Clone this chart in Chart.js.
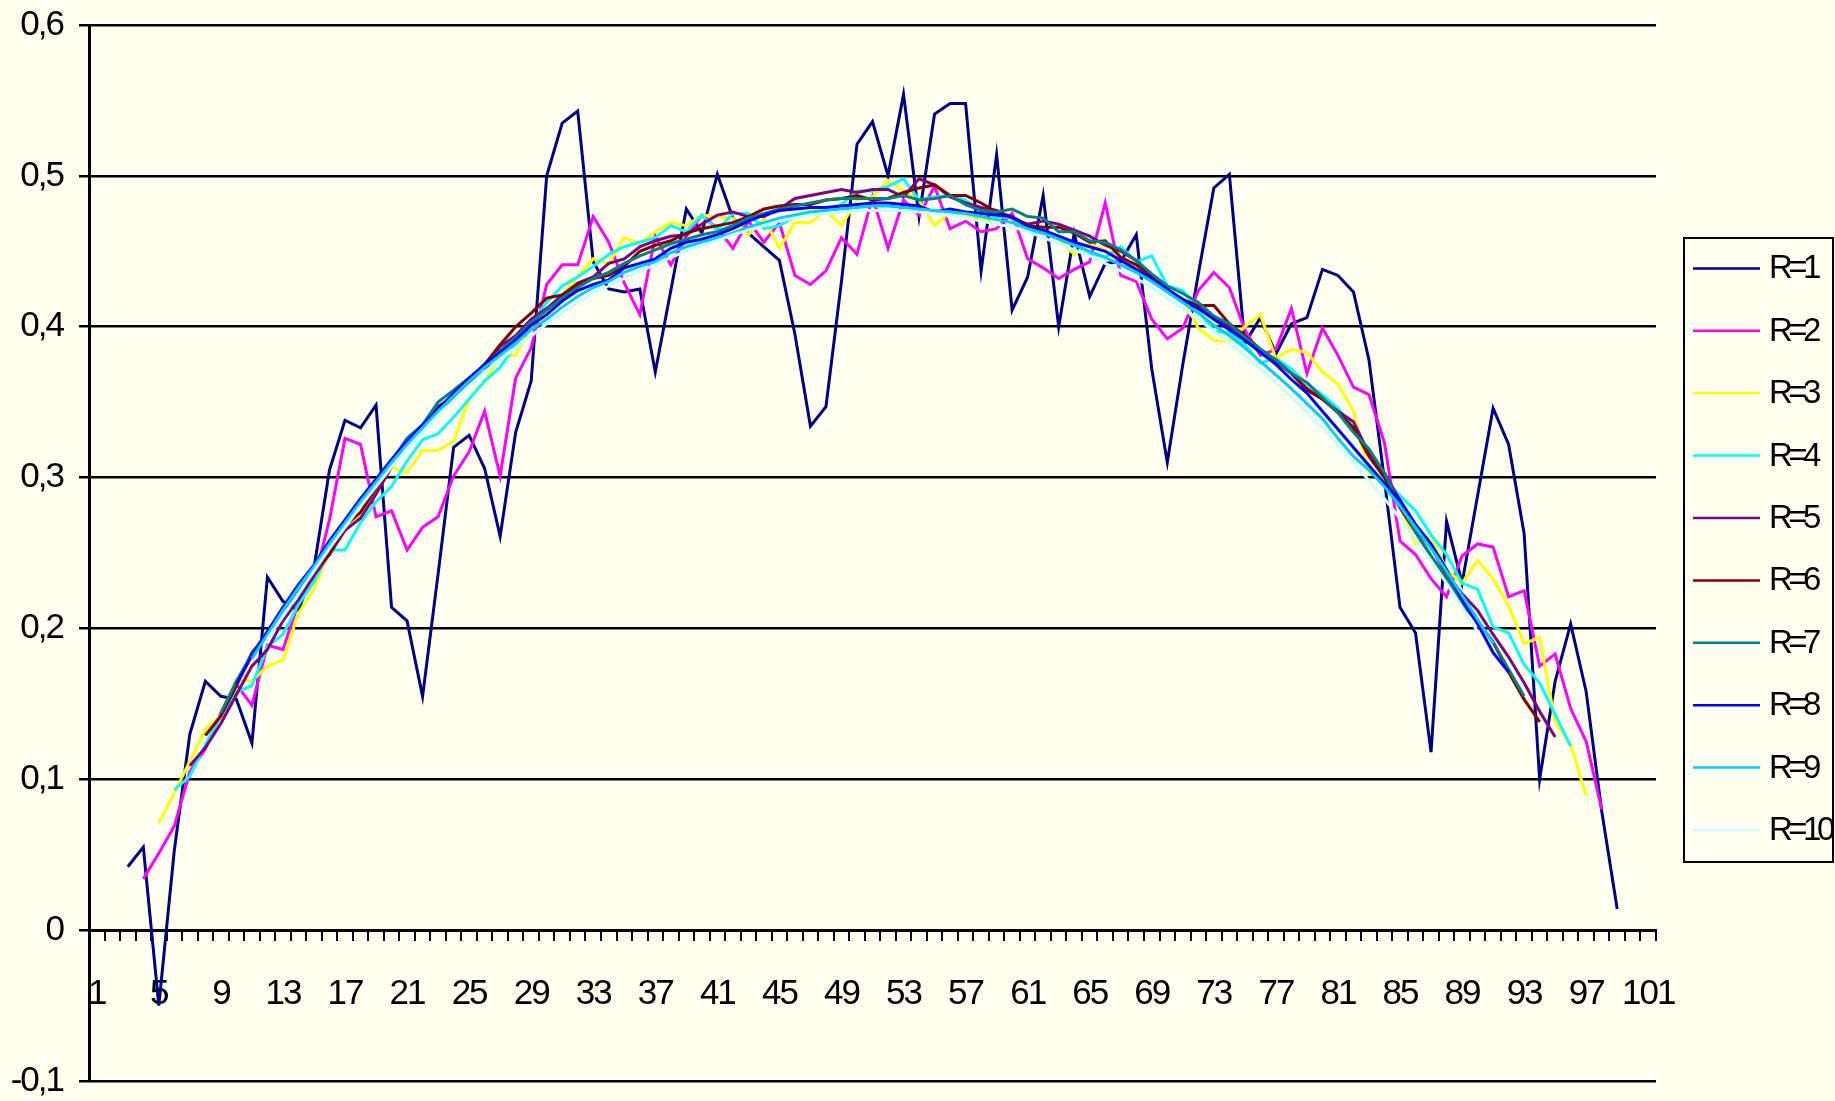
<!DOCTYPE html>
<html>
<head>
<meta charset="utf-8">
<script src="https://cdn.jsdelivr.net/npm/chart.js@4.4.1/dist/chart.umd.min.js"></script>
<style>
  html, body { margin: 0; padding: 0; background: #FFFFF0; }
  #wrap { width: 1835px; height: 1101px; }
  canvas { background: #FFFFF0; }
</style>
</head>
<body>
<div id="wrap"><canvas id="chart" width="1835" height="1101"></canvas></div>
<script>
// categories 1..101
const categories = Array.from({length: 101}, (_, i) => String(i + 1));

const seriesNames = ['R=1', 'R=2', 'R=3', 'R=4', 'R=5', 'R=6', 'R=7', 'R=8', 'R=9', 'R=10'];
const seriesColors = ['#000080', '#FF00FF', '#FFFF00', '#00FFFF', '#800080',
                      '#800000', '#008080', '#0000FF', '#00CCFF', '#CCFFFF'];

// y axis ticks
const yMin = -0.1, yMax = 0.6, yStep = 0.1;

// values (null = no point)
const r1 = [null, null,
  0.042, 0.055, -0.050, 0.053, 0.130, 0.165, 0.155, 0.153, 0.124, 0.234,
  0.218, 0.212, 0.240, 0.305, 0.338, 0.333, 0.348, 0.214, 0.205, 0.155,
  0.236, 0.320, 0.328, 0.306, 0.261, 0.330, 0.364, 0.500, 0.535, 0.543,
  0.443, 0.425, 0.423, 0.425, 0.370, 0.424, 0.478, 0.462, 0.501, 0.472,
  0.462, 0.453, 0.444, 0.395, 0.334, 0.347, 0.430, 0.521, 0.536, 0.500,
  0.554, 0.473, 0.541, 0.548, 0.548, 0.437, 0.514, 0.411, 0.433, 0.487,
  0.400, 0.462, 0.420, 0.442, 0.443, 0.461, 0.372, 0.310, 0.375, 0.435,
  0.492, 0.501, 0.389, 0.406, 0.382, 0.402, 0.406, 0.438, 0.434, 0.423,
  0.378, 0.298, 0.214, 0.197, 0.118, 0.271, 0.230, 0.288, 0.346, 0.322,
  0.263, 0.100, 0.165, 0.203, 0.158, 0.079, 0.014];

const r2 = [null, null, null,
  0.034, 0.051, 0.069, 0.105, 0.120, 0.144, 0.163, 0.149, 0.189, 0.186,
  0.217, 0.231, 0.272, 0.326, 0.322, 0.274, 0.278, 0.252, 0.267, 0.274,
  0.301, 0.317, 0.344, 0.301, 0.366, 0.386, 0.428, 0.441, 0.441, 0.473,
  0.456, 0.429, 0.408, 0.460, 0.441, 0.460, 0.474, 0.465, 0.452, 0.470,
  0.456, 0.469, 0.434, 0.428, 0.437, 0.459, 0.448, 0.486, 0.452, 0.484,
  0.474, 0.493, 0.465, 0.470, 0.463, 0.465, 0.475, 0.445, 0.439, 0.432,
  0.438, 0.443, 0.482, 0.434, 0.430, 0.405, 0.392, 0.399, 0.424, 0.436,
  0.426, 0.398, 0.381, 0.385, 0.412, 0.369, 0.399, 0.381, 0.360, 0.355,
  0.323, 0.258, 0.249, 0.233, 0.221, 0.248, 0.256, 0.254, 0.221, 0.225,
  0.175, 0.183, 0.147, 0.125, 0.080];

const r3 = [null, null, null, null,
  0.071, 0.091, 0.112, 0.133, 0.142, 0.166, 0.165, 0.175, 0.179, 0.210,
  0.226, 0.252, 0.266, 0.275, 0.291, 0.307, 0.303, 0.318, 0.318, 0.324,
  0.352, 0.364, 0.380, 0.381, 0.400, 0.411, 0.421, 0.433, 0.445, 0.442,
  0.459, 0.455, 0.463, 0.469, 0.467, 0.474, 0.473, 0.472, 0.461, 0.472,
  0.452, 0.469, 0.469, 0.477, 0.467, 0.484, 0.486, 0.497, 0.490, 0.484,
  0.467, 0.476, 0.474, 0.472, 0.468, 0.466, 0.464, 0.462, 0.458, 0.448,
  0.455, 0.451, 0.446, 0.440, 0.432, 0.424, 0.419, 0.399, 0.391, 0.390,
  0.400, 0.408, 0.379, 0.385, 0.383, 0.370, 0.362, 0.344, 0.303, 0.300,
  0.282, 0.256, 0.261, 0.239, 0.230, 0.245, 0.233, 0.215, 0.190, 0.194,
  0.138, 0.123, 0.089];

const r4 = [null, null, null, null, null,
  0.093, 0.102, 0.123, 0.142, 0.158, 0.162, 0.188, 0.196, 0.216, 0.231,
  0.252, 0.252, 0.270, 0.284, 0.294, 0.311, 0.325, 0.329, 0.340, 0.352,
  0.364, 0.373, 0.388, 0.402, 0.416, 0.427, 0.433, 0.440, 0.448, 0.453,
  0.456, 0.459, 0.467, 0.463, 0.474, 0.464, 0.475, 0.475, 0.465, 0.467,
  0.473, 0.475, 0.477, 0.481, 0.490, 0.490, 0.493, 0.498, 0.484, 0.486,
  0.487, 0.484, 0.476, 0.473, 0.472, 0.464, 0.462, 0.459, 0.455, 0.449,
  0.446, 0.453, 0.443, 0.447, 0.427, 0.424, 0.411, 0.397, 0.396, 0.388,
  0.376, 0.379, 0.372, 0.362, 0.355, 0.346, 0.333, 0.318, 0.298, 0.288,
  0.278, 0.262, 0.249, 0.230, 0.226, 0.201, 0.197, 0.176, 0.164, 0.143,
  0.122];

const r5 = [null, null, null, null, null, null,
  0.109, 0.121, 0.137, 0.156, 0.175, 0.186, 0.205, 0.219, 0.235, 0.249,
  0.265, 0.273, 0.289, 0.307, 0.324, 0.333, 0.347, 0.354, 0.363, 0.370,
  0.387, 0.394, 0.405, 0.412, 0.421, 0.429, 0.433, 0.442, 0.445, 0.453,
  0.457, 0.460, 0.461, 0.468, 0.474, 0.476, 0.473, 0.473, 0.478, 0.485,
  0.487, 0.489, 0.491, 0.489, 0.491, 0.491, 0.486, 0.498, 0.494, 0.486,
  0.482, 0.479, 0.477, 0.472, 0.468, 0.470, 0.468, 0.464, 0.460, 0.454,
  0.450, 0.444, 0.434, 0.424, 0.418, 0.413, 0.407, 0.400, 0.393, 0.385,
  0.377, 0.369, 0.359, 0.352, 0.344, 0.337, 0.316, 0.303, 0.285, 0.266,
  0.254, 0.236, 0.223, 0.212, 0.196, 0.181, 0.164, 0.145, 0.128];

const r6 = [null, null, null, null, null, null, null,
  0.129, 0.142, 0.162, 0.184, 0.196, 0.212, 0.224, 0.240, 0.249, 0.268,
  0.277, 0.293, 0.310, 0.325, 0.334, 0.345, 0.352, 0.363, 0.375, 0.388,
  0.400, 0.409, 0.419, 0.421, 0.428, 0.432, 0.434, 0.440, 0.450, 0.454,
  0.457, 0.462, 0.465, 0.467, 0.469, 0.473, 0.478, 0.480, 0.481, 0.481,
  0.484, 0.485, 0.487, 0.484, 0.485, 0.489, 0.492, 0.494, 0.487, 0.487,
  0.482, 0.476, 0.473, 0.467, 0.466, 0.466, 0.462, 0.456, 0.457, 0.446,
  0.441, 0.433, 0.424, 0.418, 0.414, 0.414, 0.402, 0.394, 0.385, 0.378,
  0.369, 0.358, 0.352, 0.343, 0.333, 0.314, 0.300, 0.280, 0.264, 0.248,
  0.233, 0.216, 0.205, 0.191, 0.171, 0.153, 0.138];

const r7 = [null, null, null, null, null, null, null, null,
  0.144, 0.165, 0.183, 0.198, 0.212, 0.226, 0.240, 0.254, 0.270, 0.283,
  0.297, 0.311, 0.326, 0.335, 0.350, 0.358, 0.366, 0.374, 0.384, 0.393,
  0.403, 0.411, 0.419, 0.426, 0.432, 0.436, 0.442, 0.447, 0.451, 0.455,
  0.458, 0.461, 0.463, 0.467, 0.472, 0.475, 0.478, 0.480, 0.482, 0.484,
  0.485, 0.485, 0.485, 0.485, 0.487, 0.484, 0.485, 0.487, 0.481, 0.477,
  0.476, 0.478, 0.473, 0.472, 0.463, 0.463, 0.457, 0.456, 0.451, 0.444,
  0.435, 0.427, 0.422, 0.416, 0.407, 0.402, 0.393, 0.385, 0.378, 0.369,
  0.363, 0.353, 0.343, 0.330, 0.319, 0.303, 0.282, 0.264, 0.248, 0.234,
  0.216, 0.205, 0.191, 0.173, 0.155];

const r8 = [null, null, null, null, null, null, null, null, null,
  0.163, 0.182, 0.198, 0.214, 0.229, 0.242, 0.258, 0.272, 0.286, 0.299,
  0.312, 0.324, 0.335, 0.345, 0.356, 0.366, 0.375, 0.383, 0.391, 0.401,
  0.408, 0.417, 0.424, 0.428, 0.431, 0.439, 0.442, 0.445, 0.452, 0.456,
  0.458, 0.461, 0.465, 0.470, 0.474, 0.477, 0.478, 0.479, 0.479, 0.480,
  0.481, 0.482, 0.482, 0.481, 0.480, 0.476, 0.478, 0.476, 0.475, 0.474,
  0.473, 0.466, 0.464, 0.460, 0.456, 0.453, 0.450, 0.444, 0.438, 0.432,
  0.425, 0.418, 0.412, 0.405, 0.398, 0.391, 0.383, 0.375, 0.365, 0.356,
  0.344, 0.332, 0.320, 0.308, 0.296, 0.285, 0.269, 0.256, 0.239, 0.219,
  0.203, 0.184, 0.171];

const r9 = [null, null, null, null, null, null, null, null, null, null,
  0.180, 0.196, 0.212, 0.227, 0.241, 0.256, 0.270, 0.284, 0.297, 0.310,
  0.322, 0.333, 0.344, 0.354, 0.364, 0.373, 0.381, 0.389, 0.398, 0.405,
  0.413, 0.420, 0.426, 0.430, 0.436, 0.440, 0.443, 0.449, 0.453, 0.456,
  0.459, 0.462, 0.466, 0.469, 0.472, 0.474, 0.476, 0.477, 0.478, 0.479,
  0.480, 0.480, 0.479, 0.478, 0.477, 0.476, 0.475, 0.473, 0.471, 0.469,
  0.465, 0.462, 0.458, 0.454, 0.450, 0.446, 0.441, 0.436, 0.430, 0.423,
  0.416, 0.409, 0.401, 0.394, 0.386, 0.377, 0.368, 0.359, 0.349, 0.339,
  0.326, 0.314, 0.305, 0.294, 0.281, 0.267, 0.253, 0.238, 0.222, 0.206,
  0.190];

const r10 = [null, null, null, null, null, null, null, null, null, null, null,
  0.193, 0.208, 0.223, 0.238, 0.253, 0.267, 0.281, 0.294, 0.307, 0.319,
  0.330, 0.341, 0.351, 0.361, 0.370, 0.378, 0.386, 0.394, 0.402, 0.409,
  0.416, 0.422, 0.427, 0.432, 0.437, 0.441, 0.446, 0.450, 0.454, 0.457,
  0.461, 0.464, 0.467, 0.470, 0.472, 0.474, 0.475, 0.476, 0.477, 0.477,
  0.477, 0.477, 0.476, 0.475, 0.474, 0.472, 0.470, 0.468, 0.466, 0.463,
  0.459, 0.455, 0.451, 0.447, 0.442, 0.437, 0.432, 0.426, 0.419, 0.412,
  0.405, 0.397, 0.389, 0.381, 0.372, 0.363, 0.353, 0.343, 0.333, 0.322,
  0.310, 0.298, 0.286, 0.273, 0.259, 0.245, 0.230, 0.214, 0.198];

const seriesValues = [r1, r2, r3, r4, r5, r6, r7, r8, r9, r10];

const FONT = '"Liberation Sans", Arial, sans-serif';

// excel style comma decimals
function fmtTick(v) {
  const r = Math.round(v * 10) / 10;
  if (r === 0) return '0';
  return r.toFixed(1).replace('.', ',');
}

// tighter glyph spacing, the original text is narrow
const tightText = {
  id: 'tightText',
  beforeDraw(chart) {
    if ('letterSpacing' in chart.ctx) chart.ctx.letterSpacing = '-2px';
  }
};

// legend in a framed box on the right
const boxLegend = {
  id: 'boxLegend',
  afterDraw(chart) {
    const ctx = chart.ctx;
    ctx.save();
    ctx.strokeStyle = '#000';
    ctx.lineWidth = 2;
    ctx.strokeRect(1684, 238, 149, 624);
    ctx.font = '33px ' + FONT;
    ctx.textBaseline = 'middle';
    ctx.textAlign = 'left';
    if ('letterSpacing' in ctx) ctx.letterSpacing = '-4.5px';
    seriesNames.forEach((name, i) => {
      const y = 268.4 + i * 62.4;
      ctx.strokeStyle = seriesColors[i];
      ctx.lineWidth = 2.5;
      ctx.beginPath();
      ctx.moveTo(1693, y);
      ctx.lineTo(1760, y);
      ctx.stroke();
      ctx.fillStyle = '#000';
      ctx.fillText(name, 1769, y + 1);
    });
    ctx.restore();
  }
};

const datasets = seriesNames.map((name, i) => ({
  label: name,
  data: seriesValues[i],
  borderColor: seriesColors[i],
  backgroundColor: seriesColors[i],
  borderWidth: 3,
  pointRadius: 0,
  tension: 0,
  fill: false,
  order: seriesNames.length - i   // later series on top, like Excel
}));

new Chart(document.getElementById('chart'), {
  type: 'line',
  data: { labels: categories, datasets: datasets },
  options: {
    responsive: false,
    animation: false,
    devicePixelRatio: 1,
    layout: { padding: { top: 25, bottom: 20, left: 0, right: 179 } },
    plugins: {
      legend: { display: false },
      tooltip: { enabled: false }
    },
    scales: {
      x: {
        type: 'category',
        position: { y: 0 },
        offset: true,
        grid: {
          offset: true,
          drawOnChartArea: false,
          drawTicks: true,
          tickLength: 9,
          color: '#000',
          lineWidth: 2
        },
        border: { color: '#000', width: 3 },
        ticks: {
          autoSkip: false,
          maxRotation: 0,
          minRotation: 0,
          padding: 34,
          color: '#000',
          font: { family: FONT, size: 35 },
          callback: (v, i) => (i % 4 === 0 ? categories[i] : '')
        }
      },
      y: {
        min: yMin,
        max: yMax,
        grid: {
          color: '#000',
          lineWidth: 2.5,
          drawTicks: true,
          tickLength: 10
        },
        border: { color: '#000', width: 3 },
        ticks: {
          stepSize: yStep,
          padding: 16,
          color: '#000',
          font: { family: FONT, size: 35 },
          callback: v => fmtTick(v)
        },
        afterFit: s => {
          s.width = 89;
          // let layout.padding alone decide top and bottom
          s.paddingTop = 0;
          s.paddingBottom = 0;
        }
      }
    }
  },
  plugins: [tightText, boxLegend]
});
</script>
</body>
</html>
